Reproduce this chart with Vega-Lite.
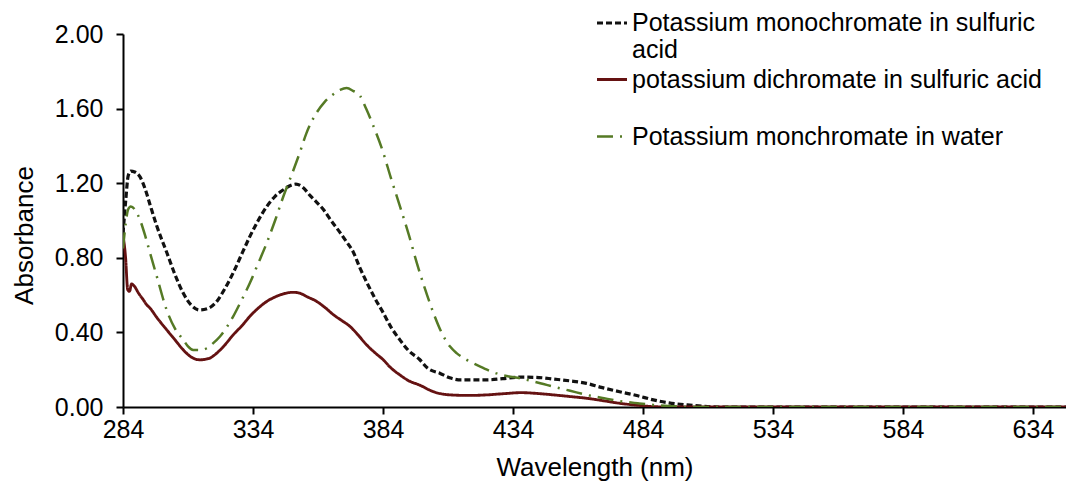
{
  "$schema": "https://vega.github.io/schema/vega-lite/v6.json",
  "width": 943,
  "height": 373,
  "autosize": {"type": "none"},
  "padding": {"left": 123, "top": 34, "right": 0, "bottom": 80},
  "background": "white",
  "config": {
    "view": {"stroke": null},
    "font": "Liberation Sans",
    "axis": {
      "grid": false,
      "domainColor": "black",
      "domainWidth": 2,
      "tickColor": "black",
      "tickWidth": 2,
      "tickSize": 7,
      "labelFont": "Liberation Sans",
      "labelFontSize": 25,
      "labelColor": "black",
      "titleFont": "Liberation Sans",
      "titleFontSize": 26,
      "titleFontWeight": "normal",
      "titleColor": "black"
    }
  },
  "data": {
    "values": [
      {"series": "Potassium monochromate in sulfuric acid", "wl": 284, "A": 0.93},
      {"series": "Potassium monochromate in sulfuric acid", "wl": 285, "A": 1.1},
      {"series": "Potassium monochromate in sulfuric acid", "wl": 286, "A": 1.24},
      {"series": "Potassium monochromate in sulfuric acid", "wl": 287, "A": 1.265},
      {"series": "Potassium monochromate in sulfuric acid", "wl": 288.5, "A": 1.26},
      {"series": "Potassium monochromate in sulfuric acid", "wl": 290.5, "A": 1.235},
      {"series": "Potassium monochromate in sulfuric acid", "wl": 292.5, "A": 1.17},
      {"series": "Potassium monochromate in sulfuric acid", "wl": 294.5, "A": 1.08},
      {"series": "Potassium monochromate in sulfuric acid", "wl": 297, "A": 0.97},
      {"series": "Potassium monochromate in sulfuric acid", "wl": 300.8, "A": 0.83},
      {"series": "Potassium monochromate in sulfuric acid", "wl": 304, "A": 0.71},
      {"series": "Potassium monochromate in sulfuric acid", "wl": 307, "A": 0.615},
      {"series": "Potassium monochromate in sulfuric acid", "wl": 310, "A": 0.55},
      {"series": "Potassium monochromate in sulfuric acid", "wl": 313.5, "A": 0.52},
      {"series": "Potassium monochromate in sulfuric acid", "wl": 317, "A": 0.53},
      {"series": "Potassium monochromate in sulfuric acid", "wl": 320, "A": 0.565},
      {"series": "Potassium monochromate in sulfuric acid", "wl": 323, "A": 0.63},
      {"series": "Potassium monochromate in sulfuric acid", "wl": 326.4, "A": 0.72},
      {"series": "Potassium monochromate in sulfuric acid", "wl": 330, "A": 0.83},
      {"series": "Potassium monochromate in sulfuric acid", "wl": 333, "A": 0.92},
      {"series": "Potassium monochromate in sulfuric acid", "wl": 336, "A": 1.0},
      {"series": "Potassium monochromate in sulfuric acid", "wl": 339.3, "A": 1.075},
      {"series": "Potassium monochromate in sulfuric acid", "wl": 342.5, "A": 1.13},
      {"series": "Potassium monochromate in sulfuric acid", "wl": 345.7, "A": 1.165},
      {"series": "Potassium monochromate in sulfuric acid", "wl": 348, "A": 1.185},
      {"series": "Potassium monochromate in sulfuric acid", "wl": 350.5, "A": 1.195},
      {"series": "Potassium monochromate in sulfuric acid", "wl": 353, "A": 1.18},
      {"series": "Potassium monochromate in sulfuric acid", "wl": 355.9, "A": 1.135},
      {"series": "Potassium monochromate in sulfuric acid", "wl": 358, "A": 1.105},
      {"series": "Potassium monochromate in sulfuric acid", "wl": 361, "A": 1.06},
      {"series": "Potassium monochromate in sulfuric acid", "wl": 364, "A": 1.0},
      {"series": "Potassium monochromate in sulfuric acid", "wl": 367.5, "A": 0.935},
      {"series": "Potassium monochromate in sulfuric acid", "wl": 370, "A": 0.885},
      {"series": "Potassium monochromate in sulfuric acid", "wl": 372.6, "A": 0.83},
      {"series": "Potassium monochromate in sulfuric acid", "wl": 375, "A": 0.75},
      {"series": "Potassium monochromate in sulfuric acid", "wl": 377.7, "A": 0.67},
      {"series": "Potassium monochromate in sulfuric acid", "wl": 381, "A": 0.58},
      {"series": "Potassium monochromate in sulfuric acid", "wl": 384.1, "A": 0.505},
      {"series": "Potassium monochromate in sulfuric acid", "wl": 387, "A": 0.43},
      {"series": "Potassium monochromate in sulfuric acid", "wl": 390.5, "A": 0.36},
      {"series": "Potassium monochromate in sulfuric acid", "wl": 394, "A": 0.3},
      {"series": "Potassium monochromate in sulfuric acid", "wl": 398, "A": 0.256},
      {"series": "Potassium monochromate in sulfuric acid", "wl": 401, "A": 0.21},
      {"series": "Potassium monochromate in sulfuric acid", "wl": 406, "A": 0.18},
      {"series": "Potassium monochromate in sulfuric acid", "wl": 410, "A": 0.155},
      {"series": "Potassium monochromate in sulfuric acid", "wl": 414, "A": 0.145},
      {"series": "Potassium monochromate in sulfuric acid", "wl": 424, "A": 0.145},
      {"series": "Potassium monochromate in sulfuric acid", "wl": 430, "A": 0.152},
      {"series": "Potassium monochromate in sulfuric acid", "wl": 437, "A": 0.16},
      {"series": "Potassium monochromate in sulfuric acid", "wl": 444, "A": 0.158},
      {"series": "Potassium monochromate in sulfuric acid", "wl": 449.5, "A": 0.15},
      {"series": "Potassium monochromate in sulfuric acid", "wl": 456, "A": 0.14},
      {"series": "Potassium monochromate in sulfuric acid", "wl": 462.3, "A": 0.127},
      {"series": "Potassium monochromate in sulfuric acid", "wl": 468, "A": 0.105},
      {"series": "Potassium monochromate in sulfuric acid", "wl": 475, "A": 0.082},
      {"series": "Potassium monochromate in sulfuric acid", "wl": 482, "A": 0.06},
      {"series": "Potassium monochromate in sulfuric acid", "wl": 488, "A": 0.038},
      {"series": "Potassium monochromate in sulfuric acid", "wl": 494, "A": 0.022},
      {"series": "Potassium monochromate in sulfuric acid", "wl": 501, "A": 0.011},
      {"series": "Potassium monochromate in sulfuric acid", "wl": 507, "A": 0.004},
      {"series": "Potassium monochromate in sulfuric acid", "wl": 513, "A": 0.0},
      {"series": "Potassium monochromate in sulfuric acid", "wl": 560, "A": 0.0},
      {"series": "Potassium monochromate in sulfuric acid", "wl": 600, "A": 0.0},
      {"series": "Potassium monochromate in sulfuric acid", "wl": 646.7, "A": 0.0},

      {"series": "potassium dichromate in sulfuric acid", "wl": 284, "A": 0.92},
      {"series": "potassium dichromate in sulfuric acid", "wl": 285, "A": 0.8},
      {"series": "potassium dichromate in sulfuric acid", "wl": 285.8, "A": 0.63},
      {"series": "potassium dichromate in sulfuric acid", "wl": 286.5, "A": 0.62},
      {"series": "potassium dichromate in sulfuric acid", "wl": 287.3, "A": 0.66},
      {"series": "potassium dichromate in sulfuric acid", "wl": 288.5, "A": 0.645},
      {"series": "potassium dichromate in sulfuric acid", "wl": 290, "A": 0.61},
      {"series": "potassium dichromate in sulfuric acid", "wl": 291.8, "A": 0.575},
      {"series": "potassium dichromate in sulfuric acid", "wl": 293, "A": 0.55},
      {"series": "potassium dichromate in sulfuric acid", "wl": 294.4, "A": 0.53},
      {"series": "potassium dichromate in sulfuric acid", "wl": 297, "A": 0.48},
      {"series": "potassium dichromate in sulfuric acid", "wl": 300.8, "A": 0.414},
      {"series": "potassium dichromate in sulfuric acid", "wl": 304, "A": 0.36},
      {"series": "potassium dichromate in sulfuric acid", "wl": 307.2, "A": 0.306},
      {"series": "potassium dichromate in sulfuric acid", "wl": 310, "A": 0.27},
      {"series": "potassium dichromate in sulfuric acid", "wl": 313.6, "A": 0.253},
      {"series": "potassium dichromate in sulfuric acid", "wl": 317, "A": 0.26},
      {"series": "potassium dichromate in sulfuric acid", "wl": 320, "A": 0.288},
      {"series": "potassium dichromate in sulfuric acid", "wl": 323, "A": 0.33},
      {"series": "potassium dichromate in sulfuric acid", "wl": 326.4, "A": 0.387},
      {"series": "potassium dichromate in sulfuric acid", "wl": 330, "A": 0.44},
      {"series": "potassium dichromate in sulfuric acid", "wl": 332.8, "A": 0.486},
      {"series": "potassium dichromate in sulfuric acid", "wl": 336, "A": 0.53},
      {"series": "potassium dichromate in sulfuric acid", "wl": 339.3, "A": 0.566},
      {"series": "potassium dichromate in sulfuric acid", "wl": 342.5, "A": 0.59},
      {"series": "potassium dichromate in sulfuric acid", "wl": 345.7, "A": 0.607},
      {"series": "potassium dichromate in sulfuric acid", "wl": 349.5, "A": 0.615},
      {"series": "potassium dichromate in sulfuric acid", "wl": 352, "A": 0.61},
      {"series": "potassium dichromate in sulfuric acid", "wl": 355, "A": 0.59},
      {"series": "potassium dichromate in sulfuric acid", "wl": 358.5, "A": 0.566},
      {"series": "potassium dichromate in sulfuric acid", "wl": 362, "A": 0.53},
      {"series": "potassium dichromate in sulfuric acid", "wl": 364.9, "A": 0.495},
      {"series": "potassium dichromate in sulfuric acid", "wl": 368, "A": 0.465},
      {"series": "potassium dichromate in sulfuric acid", "wl": 371.3, "A": 0.432},
      {"series": "potassium dichromate in sulfuric acid", "wl": 374.5, "A": 0.385},
      {"series": "potassium dichromate in sulfuric acid", "wl": 377.7, "A": 0.333},
      {"series": "potassium dichromate in sulfuric acid", "wl": 381, "A": 0.29},
      {"series": "potassium dichromate in sulfuric acid", "wl": 384.1, "A": 0.253},
      {"series": "potassium dichromate in sulfuric acid", "wl": 387, "A": 0.21},
      {"series": "potassium dichromate in sulfuric acid", "wl": 390.5, "A": 0.172},
      {"series": "potassium dichromate in sulfuric acid", "wl": 394, "A": 0.14},
      {"series": "potassium dichromate in sulfuric acid", "wl": 398, "A": 0.118},
      {"series": "potassium dichromate in sulfuric acid", "wl": 403.4, "A": 0.082},
      {"series": "potassium dichromate in sulfuric acid", "wl": 409.8, "A": 0.065},
      {"series": "potassium dichromate in sulfuric acid", "wl": 417, "A": 0.062},
      {"series": "potassium dichromate in sulfuric acid", "wl": 424, "A": 0.065},
      {"series": "potassium dichromate in sulfuric acid", "wl": 431, "A": 0.072},
      {"series": "potassium dichromate in sulfuric acid", "wl": 437, "A": 0.077},
      {"series": "potassium dichromate in sulfuric acid", "wl": 443, "A": 0.073},
      {"series": "potassium dichromate in sulfuric acid", "wl": 449.5, "A": 0.065},
      {"series": "potassium dichromate in sulfuric acid", "wl": 456, "A": 0.056},
      {"series": "potassium dichromate in sulfuric acid", "wl": 462.3, "A": 0.047},
      {"series": "potassium dichromate in sulfuric acid", "wl": 469, "A": 0.033},
      {"series": "potassium dichromate in sulfuric acid", "wl": 475, "A": 0.02},
      {"series": "potassium dichromate in sulfuric acid", "wl": 482, "A": 0.009},
      {"series": "potassium dichromate in sulfuric acid", "wl": 488, "A": 0.002},
      {"series": "potassium dichromate in sulfuric acid", "wl": 495, "A": 0.0},
      {"series": "potassium dichromate in sulfuric acid", "wl": 560, "A": 0.0},
      {"series": "potassium dichromate in sulfuric acid", "wl": 646.7, "A": 0.0},

      {"series": "Potassium monchromate in water", "wl": 284, "A": 0.85},
      {"series": "Potassium monchromate in water", "wl": 285, "A": 0.98},
      {"series": "Potassium monchromate in water", "wl": 286, "A": 1.06},
      {"series": "Potassium monchromate in water", "wl": 287, "A": 1.075},
      {"series": "Potassium monchromate in water", "wl": 288.5, "A": 1.06},
      {"series": "Potassium monchromate in water", "wl": 290.5, "A": 1.005},
      {"series": "Potassium monchromate in water", "wl": 292.5, "A": 0.92},
      {"series": "Potassium monchromate in water", "wl": 294.4, "A": 0.826},
      {"series": "Potassium monchromate in water", "wl": 297, "A": 0.7},
      {"series": "Potassium monchromate in water", "wl": 300.8, "A": 0.52},
      {"series": "Potassium monchromate in water", "wl": 304, "A": 0.42},
      {"series": "Potassium monchromate in water", "wl": 307.2, "A": 0.36},
      {"series": "Potassium monchromate in water", "wl": 309, "A": 0.325},
      {"series": "Potassium monchromate in water", "wl": 311, "A": 0.306},
      {"series": "Potassium monchromate in water", "wl": 313.5, "A": 0.305},
      {"series": "Potassium monchromate in water", "wl": 316.2, "A": 0.315},
      {"series": "Potassium monchromate in water", "wl": 318.5, "A": 0.34},
      {"series": "Potassium monchromate in water", "wl": 321.3, "A": 0.378},
      {"series": "Potassium monchromate in water", "wl": 324, "A": 0.43},
      {"series": "Potassium monchromate in water", "wl": 326.4, "A": 0.486},
      {"series": "Potassium monchromate in water", "wl": 329.5, "A": 0.57},
      {"series": "Potassium monchromate in water", "wl": 332.8, "A": 0.665},
      {"series": "Potassium monchromate in water", "wl": 336, "A": 0.77},
      {"series": "Potassium monchromate in water", "wl": 339.3, "A": 0.88},
      {"series": "Potassium monchromate in water", "wl": 342.5, "A": 1.0},
      {"series": "Potassium monchromate in water", "wl": 345.7, "A": 1.13},
      {"series": "Potassium monchromate in water", "wl": 349, "A": 1.25},
      {"series": "Potassium monchromate in water", "wl": 352, "A": 1.364},
      {"series": "Potassium monchromate in water", "wl": 354.6, "A": 1.47},
      {"series": "Potassium monchromate in water", "wl": 356.5, "A": 1.53},
      {"series": "Potassium monchromate in water", "wl": 358.5, "A": 1.579},
      {"series": "Potassium monchromate in water", "wl": 361.5, "A": 1.635},
      {"series": "Potassium monchromate in water", "wl": 364.9, "A": 1.677},
      {"series": "Potassium monchromate in water", "wl": 367.5, "A": 1.7},
      {"series": "Potassium monchromate in water", "wl": 370, "A": 1.71},
      {"series": "Potassium monchromate in water", "wl": 372.5, "A": 1.695},
      {"series": "Potassium monchromate in water", "wl": 375.2, "A": 1.668},
      {"series": "Potassium monchromate in water", "wl": 377.5, "A": 1.6},
      {"series": "Potassium monchromate in water", "wl": 380.3, "A": 1.507},
      {"series": "Potassium monchromate in water", "wl": 384.1, "A": 1.364},
      {"series": "Potassium monchromate in water", "wl": 387, "A": 1.23},
      {"series": "Potassium monchromate in water", "wl": 390.5, "A": 1.077},
      {"series": "Potassium monchromate in water", "wl": 394, "A": 0.92},
      {"series": "Potassium monchromate in water", "wl": 397, "A": 0.773},
      {"series": "Potassium monchromate in water", "wl": 400, "A": 0.64},
      {"series": "Potassium monchromate in water", "wl": 403.4, "A": 0.504},
      {"series": "Potassium monchromate in water", "wl": 406.5, "A": 0.4},
      {"series": "Potassium monchromate in water", "wl": 409.8, "A": 0.324},
      {"series": "Potassium monchromate in water", "wl": 412.3, "A": 0.289},
      {"series": "Potassium monchromate in water", "wl": 416.2, "A": 0.253},
      {"series": "Potassium monchromate in water", "wl": 420, "A": 0.226},
      {"series": "Potassium monchromate in water", "wl": 424, "A": 0.2},
      {"series": "Potassium monchromate in water", "wl": 427.7, "A": 0.18},
      {"series": "Potassium monchromate in water", "wl": 432, "A": 0.165},
      {"series": "Potassium monchromate in water", "wl": 436.7, "A": 0.154},
      {"series": "Potassium monchromate in water", "wl": 441, "A": 0.14},
      {"series": "Potassium monchromate in water", "wl": 445.7, "A": 0.123},
      {"series": "Potassium monchromate in water", "wl": 449.5, "A": 0.109},
      {"series": "Potassium monchromate in water", "wl": 456, "A": 0.087},
      {"series": "Potassium monchromate in water", "wl": 462.3, "A": 0.065},
      {"series": "Potassium monchromate in water", "wl": 469, "A": 0.047},
      {"series": "Potassium monchromate in water", "wl": 475, "A": 0.032},
      {"series": "Potassium monchromate in water", "wl": 482, "A": 0.02},
      {"series": "Potassium monchromate in water", "wl": 488, "A": 0.011},
      {"series": "Potassium monchromate in water", "wl": 495, "A": 0.004},
      {"series": "Potassium monchromate in water", "wl": 502, "A": 0.0},
      {"series": "Potassium monchromate in water", "wl": 560, "A": 0.0},
      {"series": "Potassium monchromate in water", "wl": 646.7, "A": 0.0}
    ]
  },
  "mark": {"type": "line", "interpolate": "monotone", "clip": true},
  "encoding": {
    "x": {
      "field": "wl",
      "type": "quantitative",
      "scale": {"domain": [284, 646.7], "nice": false, "zero": false},
      "axis": {
        "values": [284, 334, 384, 434, 484, 534, 584, 634],
        "title": "Wavelength (nm)",
        "labelPadding": 3,
        "titlePadding": 12,
        "labelFlush": false,
        "labelOverlap": false
      }
    },
    "y": {
      "field": "A",
      "type": "quantitative",
      "scale": {"domain": [0, 2], "nice": false},
      "axis": {
        "values": [0, 0.4, 0.8, 1.2, 1.6, 2.0],
        "format": ".2f",
        "title": "Absorbance",
        "labelPadding": 13,
        "titlePadding": 17,
        "titleY": 201
      }
    },
    "color": {
      "field": "series",
      "type": "nominal",
      "scale": {
        "domain": ["Potassium monochromate in sulfuric acid", "potassium dichromate in sulfuric acid", "Potassium monchromate in water"],
        "range": ["#111111", "#651212", "#557a25"]
      },
      "legend": {
        "orient": "none",
        "legendX": 472,
        "legendY": -28,
        "title": null,
        "direction": "vertical",
        "gridAlign": "all",
        "rowPadding": 0,
        "padding": 0,
        "labelFont": "Liberation Sans",
        "labelFontSize": 25,
        "labelColor": "black",
        "labelLimit": 0,
        "labelOffset": 3,
        "symbolType": "stroke",
        "symbolSize": 900,
        "symbolStrokeWidth": 2.7,
        "labelExpr": "datum.label == 'Potassium monochromate in sulfuric acid' ? ['Potassium monochromate in sulfuric', 'acid'] : datum.label",
        "encode": {"labels": {"update": {"lineHeight": {"value": 27}}}}
      }
    },
    "strokeDash": {
      "field": "series",
      "type": "nominal",
      "scale": {
        "domain": ["Potassium monochromate in sulfuric acid", "potassium dichromate in sulfuric acid", "Potassium monchromate in water"],
        "range": [[6, 3], [1, 0], [16, 7, 2, 7]]
      }
    },
    "strokeWidth": {
      "field": "series",
      "type": "nominal",
      "scale": {
        "domain": ["Potassium monochromate in sulfuric acid", "potassium dichromate in sulfuric acid", "Potassium monchromate in water"],
        "range": [3.2, 2.5, 2.6]
      },
      "legend": null
    }
  }
}
